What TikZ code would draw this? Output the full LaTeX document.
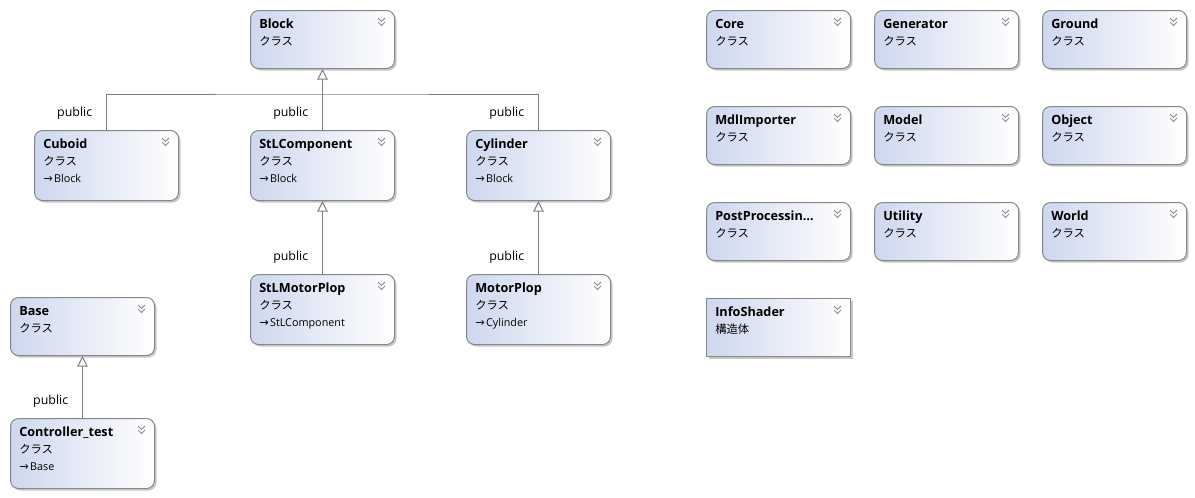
\documentclass[tikz,border=0pt]{standalone}
\usepackage{fontspec}
\setmainfont{Open Sans}
\newfontfamily\jp{Noto Sans CJK JP}
\newfontfamily\dv{DejaVu Sans}
\usetikzlibrary{shadows,arrows.meta}
\definecolor{boxblue}{RGB}{206,215,238}
\definecolor{bord}{RGB}{135,135,135}
\definecolor{conn}{RGB}{125,125,125}
\tikzset{
 cls/.style={draw=bord, line width=0.75pt, rounded corners=6pt, left color=boxblue, right color=white, minimum width=108pt, inner sep=0pt, anchor=north west, drop shadow={shadow xshift=1.5pt, shadow yshift=-1.5pt, opacity=0.22, fill=black}},
 stru/.style={cls, sharp corners},
 ttl/.style={anchor=base west, inner sep=0pt, font=\fontsize{9.5}{11}\selectfont\bfseries},
 kind/.style={anchor=base west, inner sep=0pt, font=\fontsize{8.5}{10}\selectfont\jp},
 basetxt/.style={anchor=base west, inner sep=0pt, font=\fontsize{8.1}{9}\selectfont},
 lbl/.style={anchor=east, inner sep=0pt, font=\fontsize{9.3}{10}\selectfont},
 inh/.style={draw=conn, line width=0.75pt, -{Triangle[open, length=8pt, width=8pt, fill=white]}},
 cline/.style={draw=conn, line width=0.75pt},
 chevst/.style={draw=black!45, line width=0.6pt}
}
\newcommand\chevron[1]{%
 \draw[chevst] ([shift={(-17,8)}]#1.north east) -- ++(3.5,3.5) -- ++(3.5,-3.5);
 \draw[chevst] ([shift={(-17,12)}]#1.north east) -- ++(3.5,3.5) -- ++(3.5,-3.5);
}
\newcommand\cboxA[5]{% name x y title kind
 \node[cls, minimum height=43.5pt] (#1) at (#2,#3) {};
 \node[ttl] (#1t) at ([shift={(9,18.5)}]#1.north west) {#4};
 \node[kind] (#1k) at ([shift={(9,35.5)}]#1.north west) {#5};
 \chevron{#1}
}
\newcommand\cboxB[5]{% name x y title base
 \node[cls, minimum height=52.5pt] (#1) at (#2,#3) {};
 \node[ttl] (#1t) at ([shift={(9,18.5)}]#1.north west) {#4};
 \node[kind] (#1k) at ([shift={(9,35)}]#1.north west) {クラス};
 \node[basetxt] (#1b) at ([shift={(9,52)}]#1.north west) {{\dv\fontsize{8.5}{8}\selectfont →}\hspace{1pt}#5};
 \chevron{#1}
}
\begin{document}
\begin{tikzpicture}[x=0.75pt,y=-0.75pt]
\useasboundingbox (0,0) rectangle (1195,497);
\cboxA{block}{250}{10}{Block}{クラス}
\cboxB{cuboid}{34}{130}{Cuboid}{Block}
\cboxB{stlc}{250}{130}{StLComponent}{Block}
\cboxB{cyl}{466}{130}{Cylinder}{Block}
\cboxB{stlm}{250}{274}{StLMotorPlop}{StLComponent}
\cboxB{motor}{466}{274}{MotorPlop}{Cylinder}
\cboxA{base}{10}{297}{Base}{クラス}
\cboxB{ctrl}{10}{418}{Controller\_test}{Base}
\cboxA{core}{706}{10}{Core}{クラス}
\cboxA{gen}{874}{10}{Generator}{クラス}
\cboxA{ground}{1042}{10}{Ground}{クラス}
\cboxA{mdl}{706}{106}{MdlImporter}{クラス}
\cboxA{model}{874}{106}{Model}{クラス}
\cboxA{object}{1042}{106}{Object}{クラス}
\cboxA{post}{706}{202}{PostProcessin…}{クラス}
\cboxA{util}{874}{202}{Utility}{クラス}
\cboxA{world}{1042}{202}{World}{クラス}
% struct
\node[stru, minimum height=43.5pt] (info) at (706,298) {};
\node[ttl] (infot) at ([shift={(9,18.5)}]info.north west) {InfoShader};
\node[kind] (infok) at ([shift={(9,35.5)}]info.north west) {構造体};
\chevron{info}
% connectors
\coordinate (jy) at (0,94);
\coordinate (jn) at (block.south |- jy);
\draw[cline] (cuboid.north) |- (jn) -| (cyl.north);
\draw[inh] (stlc.north) -- (block.south);
\draw[inh] (stlm.north) -- (stlc.south);
\draw[inh] (motor.north) -- (cyl.south);
\draw[inh] (ctrl.north) -- (base.south);
% labels
\node[lbl] (l1) at ([shift={(-14,-16.5)}]cuboid.north) {public};
\node[lbl] (l2) at ([shift={(-14,-16.5)}]stlc.north) {public};
\node[lbl] (l3) at ([shift={(-14,-16.5)}]cyl.north) {public};
\node[lbl] (l4) at ([shift={(-14,-16.5)}]stlm.north) {public};
\node[lbl] (l5) at ([shift={(-14,-16.5)}]motor.north) {public};
\node[lbl] (l6) at ([shift={(-14,-16.5)}]ctrl.north) {public};
\end{tikzpicture}
\end{document}
